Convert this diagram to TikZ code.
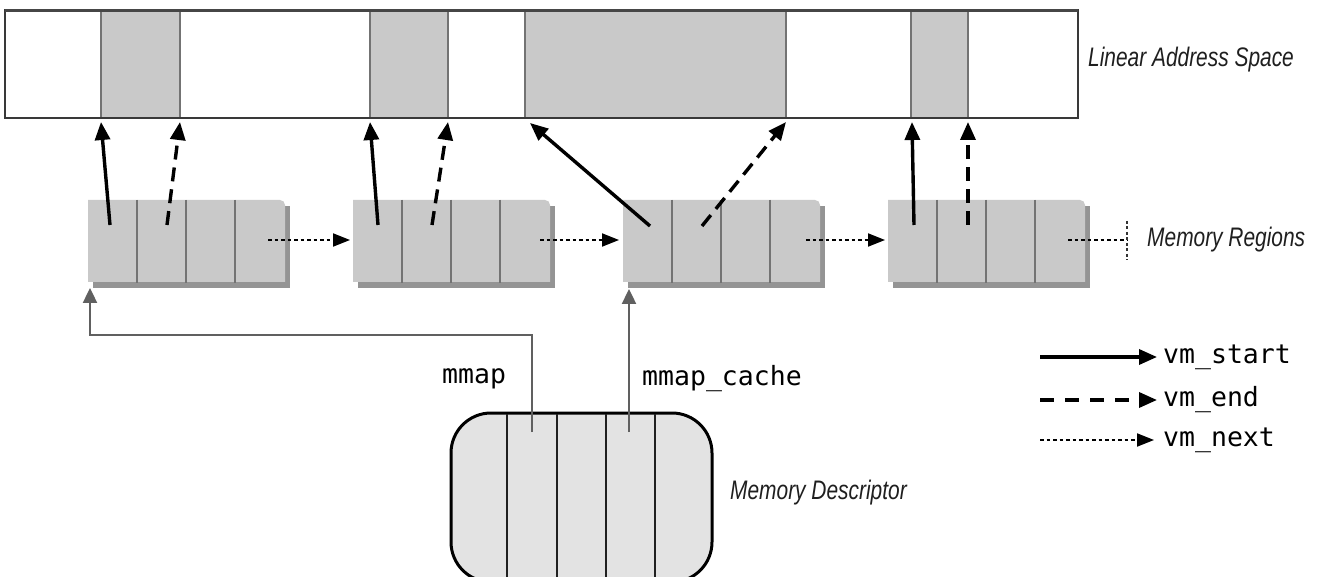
\documentclass[tikz,border=0pt]{standalone}
\usepackage{fontspec}
\usetikzlibrary{arrows.meta}
\newfontfamily\monof{DejaVu Sans Mono}
\newfontfamily\labf{Liberation Sans}[FakeStretch=0.78]
\definecolor{cellgray}{gray}{0.79}
\definecolor{shadowgray}{gray}{0.58}
\definecolor{divgray}{gray}{0.45}
\definecolor{descgray}{gray}{0.89}
\definecolor{labgray}{gray}{0.12}
\tikzset{
  arr/.style={-{Triangle[length=18pt,width=15pt]}, line width=3.4pt, black},
  solidarr/.style={arr},
  dasharr/.style={arr, dash pattern=on 14pt off 8pt},
  dotarr/.style={-{Triangle[length=17pt,width=13pt]}, line width=2pt, dash pattern=on 3.5pt off 3pt},
  graylink/.style={draw=gray!75!black, line width=2.4pt, -{Triangle[length=15pt,width=14pt]}},
  monolab/.style={font=\monof\fontsize{26.5}{30}\selectfont, inner sep=0pt},
  itlab/.style={font=\labf\itshape\fontsize{26.8}{30}\selectfont, text=labgray, inner sep=0pt},
  divider/.style={draw=divgray, line width=2.5pt},
}
\begin{document}
\begin{tikzpicture}[x=1pt,y=-1pt]
\useasboundingbox (0,0) rectangle (1325,577);
\fill[white] (0,0) rectangle (1325,577);

% Linear address space
\fill[cellgray] (101,11) rectangle (180,117);
\fill[cellgray] (370,11) rectangle (448,117);
\fill[cellgray] (525,11) rectangle (786,117);
\fill[cellgray] (911,11) rectangle (968,117);
\foreach \xx in {101,180,370,448,525,786,911,968}
  \draw[divider] (\xx,11) -- (\xx,117);
\draw[draw=gray!45!black, line width=2pt] (5,10) rectangle (1078,118);
\draw[draw=gray!55!black, line width=3pt] (5,10.5) -- (1078,10.5);
\node[itlab, anchor=west] (las) at (1088,60) {Linear Address Space};

% Memory region boxes
\foreach \xo/\nm in {88/m1,353/m2,623/m3,888/m4}{
  \fill[shadowgray] (\xo+5,206) rectangle (\xo+202,288);
  \fill[cellgray] (\xo,200) -- (\xo+192,200) to[out=0,in=90] (\xo+197,205) -- (\xo+197,282) -- (\xo,282) -- cycle;
  \coordinate (\nm) at (\xo,200);
  \foreach \k in {49,98,147}
    \draw[divider] (\xo+\k,200) -- (\xo+\k,283);
}
\node[itlab, anchor=west] (mr) at (1147,240) {Memory Regions};

% Memory descriptor
\draw[fill=descgray, line width=3pt, rounded corners=40pt] (451,413) rectangle (712,582);
\foreach \xx in {507,557,606,655}
  \draw[draw=gray!25!black, line width=2.2pt] (\xx,414) -- (\xx,581);
\node[itlab, anchor=west] (md) at (730,493) {Memory Descriptor};

% endpoints
\coordinate (a1s) at (110,225); \coordinate (b1s) at (101,122);
\coordinate (a1e) at (167,225); \coordinate (b1e) at (180,122);
\coordinate (a2s) at (378,225); \coordinate (b2s) at (370,122);
\coordinate (a2e) at (432,225); \coordinate (b2e) at (448,122);
\coordinate (a3s) at (650,226); \coordinate (b3s) at (530,123);
\coordinate (a3e) at (702,226); \coordinate (b3e) at (786,122);
\coordinate (a4s) at (914,225); \coordinate (b4s) at (912,122);
\coordinate (a4e) at (968,225); \coordinate (b4e) at (968,122);

\draw[solidarr] (a1s) -- (b1s);
\draw[dasharr] (a1e) -- (b1e);
\draw[solidarr] (a2s) -- (b2s);
\draw[dasharr] (a2e) -- (b2e);
\draw[solidarr] (a3s) -- (b3s);
\draw[dasharr] (a3e) -- (b3e);
\draw[solidarr] (a4s) -- (b4s);
\draw[dasharr] (a4e) -- (b4e);

% vm_next arrows
\coordinate (n1a) at (268,240); \coordinate (n1b) at (350,240);
\coordinate (n2a) at (540,240); \coordinate (n2b) at (619,240);
\coordinate (n3a) at (806,240); \coordinate (n3b) at (885,240);
\coordinate (n4a) at (1068,240); \coordinate (n4b) at (1127,240);
\coordinate (t1) at (1127,221); \coordinate (t2) at (1127,260);
\draw[dotarr] (n1a) -- (n1b);
\draw[dotarr] (n2a) -- (n2b);
\draw[dotarr] (n3a) -- (n3b);
\draw[line width=2pt, dash pattern=on 3.5pt off 3pt] (n4a) -- (n4b);
\draw[line width=1.6pt, dash pattern=on 3pt off 2.5pt, gray!40!black] (t1) -- (t2);

% mmap links
\coordinate (mm0) at (532,432);
\coordinate (mm1) at (90,288);
\coordinate (mc0) at (629,432);
\coordinate (mc1) at (629,289);
\draw[graylink] (mm0) |- (90,335) -- (mm1);
\draw[graylink] (mc0) -- (mc1);
\node[monolab, anchor=west] (mmaplab) at (442,379) {mmap};
\node[monolab, anchor=west] (mclab) at (642,379) {mmap\_cache};

% legend
\coordinate (l1a) at (1040,357); \coordinate (l1b) at (1157,357);
\coordinate (l2a) at (1040,400); \coordinate (l2b) at (1157,400);
\coordinate (l3a) at (1040,440); \coordinate (l3b) at (1154,440);
\draw[solidarr] (l1a) -- (l1b);
\draw[dasharr, dash pattern=on 14pt off 11pt] (l2a) -- (l2b);
\draw[dotarr] (l3a) -- (l3b);
\node[monolab, anchor=west] (vs) at (1163,357) {vm\_start};
\node[monolab, anchor=west] (ve) at (1163,400) {vm\_end};
\node[monolab, anchor=west] (vn) at (1163,440) {vm\_next};
\end{tikzpicture}
\end{document}
